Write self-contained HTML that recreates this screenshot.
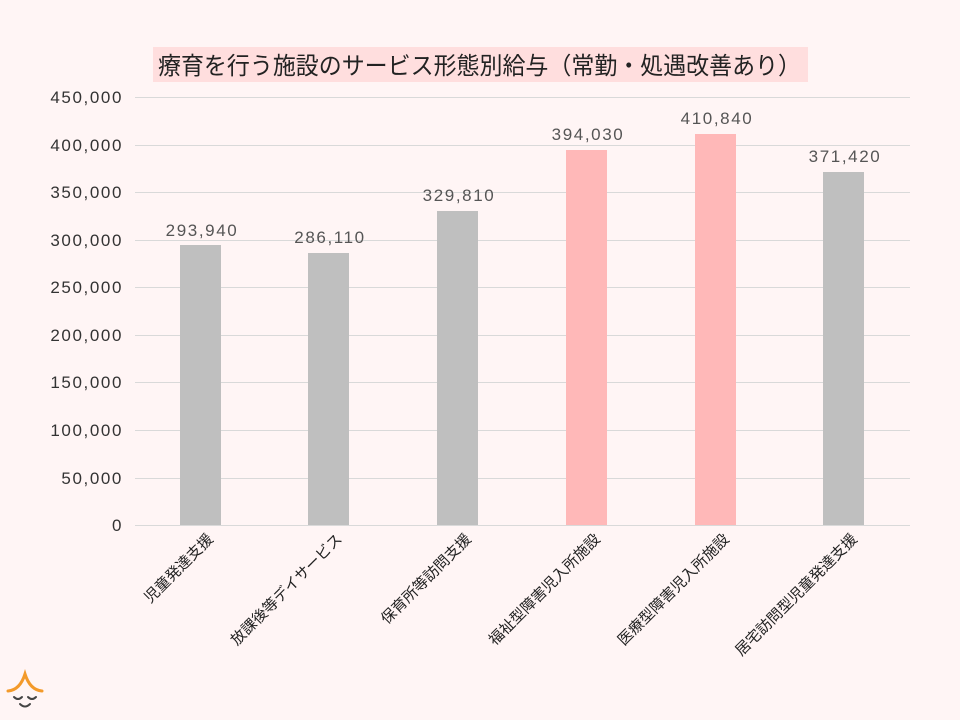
<!DOCTYPE html>
<html><head><meta charset="utf-8"><style>
html,body{margin:0;padding:0;background:#fff5f5;}
svg{display:block;font-family:"Liberation Sans","Noto Sans CJK JP",sans-serif;}
</style></head><body>
<svg width="960" height="720" viewBox="0 0 960 720" xmlns="http://www.w3.org/2000/svg">
<rect width="960" height="720" fill="#fff5f5"/>
<rect x="153" y="47" width="655" height="35" fill="#ffdede"/>
<text x="158" y="74" font-size="24" fill="#222" textLength="643" lengthAdjust="spacingAndGlyphs">療育を行う施設のサービス形態別給与（常勤・処遇改善あり）</text>
<g stroke="#d9d9d9" stroke-width="1">
<line x1="135" x2="910" y1="97.5" y2="97.5"/>
<line x1="135" x2="910" y1="145.5" y2="145.5"/>
<line x1="135" x2="910" y1="192.5" y2="192.5"/>
<line x1="135" x2="910" y1="240.5" y2="240.5"/>
<line x1="135" x2="910" y1="287.5" y2="287.5"/>
<line x1="135" x2="910" y1="335.5" y2="335.5"/>
<line x1="135" x2="910" y1="382.5" y2="382.5"/>
<line x1="135" x2="910" y1="430.5" y2="430.5"/>
<line x1="135" x2="910" y1="478.5" y2="478.5"/>
<line x1="135" x2="910" y1="525.5" y2="525.5"/>
</g>
<g font-size="17" fill="#333" text-anchor="end" letter-spacing="1.6">
<text x="123" y="103">450,000</text>
<text x="123" y="151">400,000</text>
<text x="123" y="198">350,000</text>
<text x="123" y="246">300,000</text>
<text x="123" y="293">250,000</text>
<text x="123" y="341">200,000</text>
<text x="123" y="388">150,000</text>
<text x="123" y="436">100,000</text>
<text x="123" y="484">50,000</text>
<text x="123" y="531">0</text>
</g>
<rect x="180" y="245" width="41" height="280" fill="#bfbfbf"/>
<rect x="308" y="253" width="41" height="272" fill="#bfbfbf"/>
<rect x="437" y="211" width="41" height="314" fill="#bfbfbf"/>
<rect x="566" y="150" width="41" height="375" fill="#ffb8b8"/>
<rect x="695" y="134" width="41" height="391" fill="#ffb8b8"/>
<rect x="823" y="172" width="41" height="353" fill="#bfbfbf"/>
<g font-size="17" fill="#555" text-anchor="middle" letter-spacing="1.6">
<text x="202" y="236">293,940</text>
<text x="330" y="243">286,110</text>
<text x="459" y="201">329,810</text>
<text x="588" y="140">394,030</text>
<text x="717" y="124">410,840</text>
<text x="845" y="162">371,420</text>
</g>
<g font-size="15" fill="#222" text-anchor="end">
<text transform="translate(214,540) rotate(-45)">児童発達支援</text>
<text transform="translate(343,540) rotate(-45)">放課後等デイサービス</text>
<text transform="translate(472,540) rotate(-45)">保育所等訪問支援</text>
<text transform="translate(601,540) rotate(-45)">福祉型障害児入所施設</text>
<text transform="translate(730,540) rotate(-45)">医療型障害児入所施設</text>
<text transform="translate(858,540) rotate(-45)">居宅訪問型児童発達支援</text>
</g>
<g fill="none" stroke-linecap="round">
<path d="M8 691 Q20 690 25 674 Q30 690 42 691" stroke="#f39a2a" stroke-width="3"/>
<path d="M14 697 Q18 701 22 697 M28 697 Q32 701 36 697 M20 704 Q25 709 30 704" stroke="#444" stroke-width="2"/>
</g>
</svg>
</body></html>
